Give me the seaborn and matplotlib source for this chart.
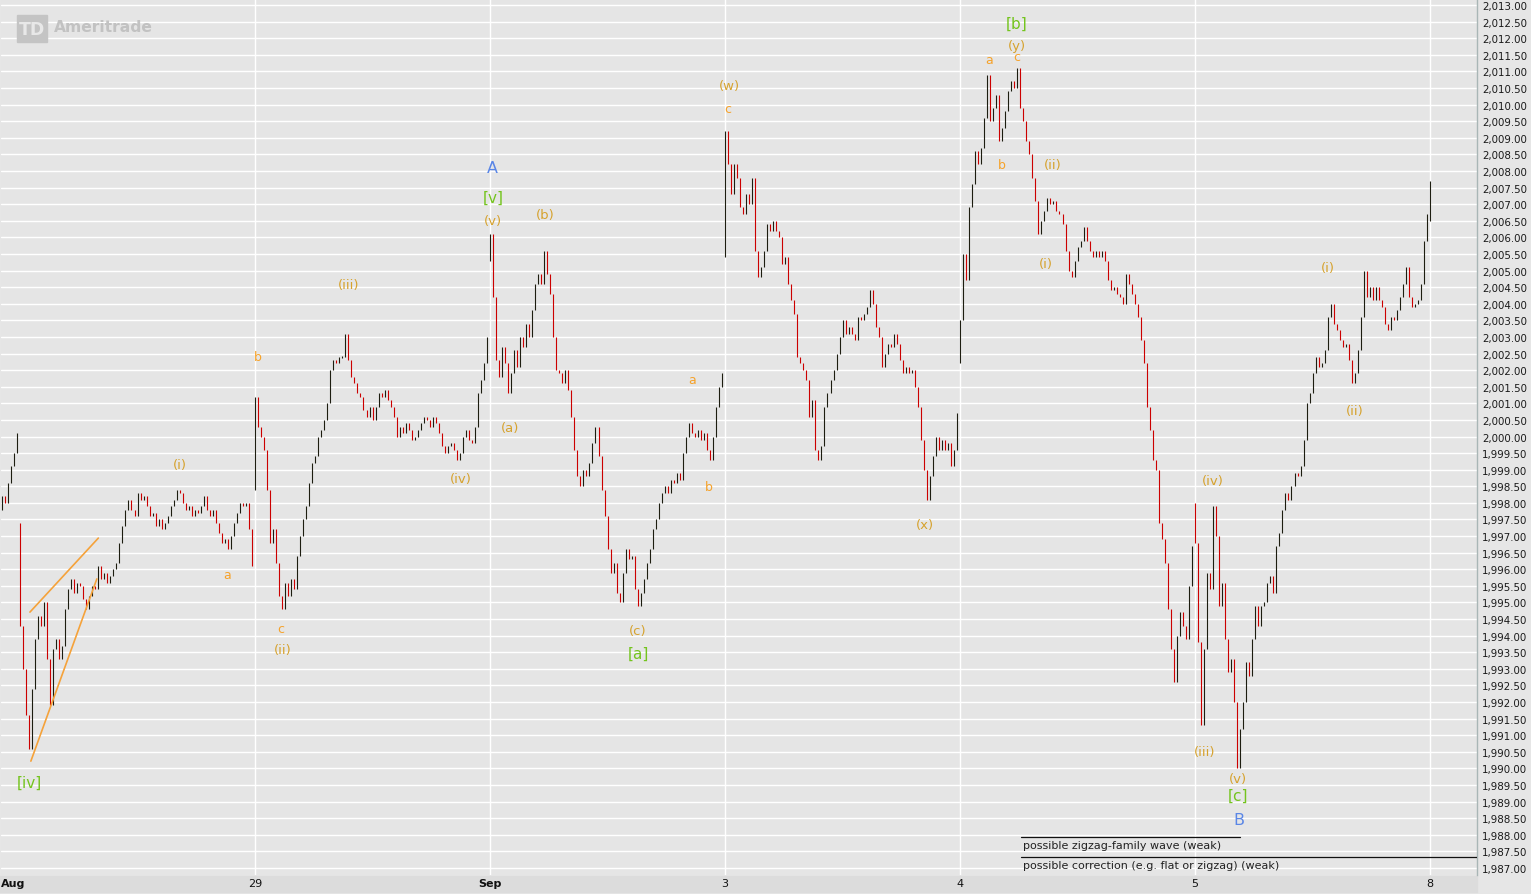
import matplotlib
matplotlib.use("Agg")
import numpy as np
import pandas as pd
import matplotlib.pyplot as plt
import seaborn as sns
from matplotlib.patches import Rectangle

# 5-minute closes per session
aug27_tail = [1998.2, 1998.0, 1998.6, 1999.1, 1999.5, 2000.1]
aug28 = [1994.3, 1993.0, 1991.6, 1990.6, 1992.4, 1993.9, 1994.6, 1994.3, 1995.0, 1993.3,
         1991.9, 1993.6, 1993.9, 1993.3, 1993.7, 1994.8, 1995.4, 1995.7, 1995.3, 1995.6,
         1995.5, 1995.1, 1994.8, 1995.2, 1995.5, 1995.4, 1996.1, 1995.7, 1995.9, 1995.6,
         1995.8, 1996.0, 1996.2, 1996.8, 1997.3, 1997.8, 1998.1, 1997.8, 1997.6, 1998.3,
         1998.1, 1998.2, 1997.9, 1997.6, 1997.7, 1997.3, 1997.5, 1997.2, 1997.4, 1997.6,
         1997.9, 1998.1, 1998.4, 1998.3, 1998.0, 1997.8, 1997.9, 1997.6, 1997.8, 1997.7,
         1997.9, 1998.2, 1997.8, 1997.6, 1997.8, 1997.4, 1997.1, 1996.8, 1996.9, 1996.6,
         1997.0, 1997.4, 1997.7, 1998.0, 1997.9, 1998.0, 1997.2, 1996.1]
aug29 = [2001.2, 2000.3, 2000.0, 1999.6, 1998.4, 1996.8, 1997.2, 1996.2, 1995.2, 1994.8,
         1995.6, 1995.2, 1995.7, 1995.4, 1996.4, 1997.0, 1997.5, 1997.9, 1998.6, 1999.2,
         1999.4, 2000.0, 2000.2, 2000.5, 2001.0, 2002.0, 2002.3, 2002.2, 2002.4, 2002.4,
         2003.1, 2002.3, 2001.8, 2001.6, 2001.3, 2001.2, 2000.8, 2000.6, 2000.9, 2000.5,
         2000.9, 2001.3, 2001.2, 2001.4, 2001.1, 2000.9, 2000.6, 2000.0, 2000.3, 2000.1,
         2000.4, 2000.2, 1999.9, 2000.0, 2000.2, 2000.4, 2000.6, 2000.5, 2000.3, 2000.6,
         2000.4, 2000.1, 1999.7, 1999.5, 1999.7, 1999.8, 1999.6, 1999.3, 1999.5, 2000.0,
         2000.2, 1999.9, 1999.8, 2000.3, 2001.3, 2001.7, 2002.2, 2003.0]
sep2 = [2006.1, 2004.2, 2002.3, 2001.8, 2002.7, 2002.2, 2001.3, 2001.9, 2002.6, 2002.1,
        2003.0, 2002.7, 2003.4, 2003.0, 2003.8, 2004.6, 2004.9, 2004.6, 2005.6, 2004.9,
        2004.3, 2003.0, 2002.0, 2001.9, 2001.6, 2002.0, 2001.4, 2000.6, 1999.6, 1998.8,
        1998.5, 1999.0, 1998.8, 1999.2, 1999.8, 2000.3, 1999.4, 1998.4, 1997.6, 1996.6,
        1995.9, 1996.2, 1995.3, 1995.0, 1995.9, 1996.6, 1996.3, 1996.4, 1995.4, 1994.9,
        1995.3, 1995.7, 1996.2, 1996.6, 1997.2, 1997.5, 1998.0, 1998.3, 1998.5, 1998.3,
        1998.7, 1998.6, 1998.9, 1998.7, 1999.5, 2000.0, 2000.4, 2000.1, 2000.0, 2000.2,
        1999.9, 2000.1, 1999.6, 1999.3, 2000.0, 2000.9, 2001.5, 2001.9]
sep3 = [2009.2, 2008.2, 2007.3, 2008.2, 2007.8, 2006.9, 2006.7, 2007.3, 2007.0, 2007.8,
        2005.6, 2004.8, 2005.1, 2005.6, 2006.4, 2006.2, 2006.5, 2006.2, 2006.0, 2005.2,
        2005.4, 2004.6, 2004.1, 2003.7, 2002.4, 2002.2, 2002.0, 2001.7, 2000.6, 2001.1,
        1999.6, 1999.3, 1999.7, 2000.9, 2001.3, 2001.7, 2002.0, 2002.5, 2003.0, 2003.5,
        2003.1, 2003.3, 2003.1, 2002.9, 2003.6, 2003.5, 2003.7, 2003.9, 2004.4, 2004.0,
        2003.3, 2003.0, 2002.1, 2002.5, 2002.8, 2002.7, 2003.1, 2002.8, 2002.3, 2001.9,
        2002.1, 2001.9, 2002.0, 2001.5, 2000.9, 1999.9, 1999.0, 1998.1, 1998.8, 1999.4,
        2000.0, 1999.6, 1999.9, 1999.6, 1999.8, 1999.1, 1999.6, 2000.7]
sep4 = [2003.5, 2005.5, 2004.7, 2006.9, 2007.6, 2008.6, 2008.2, 2008.7, 2009.6, 2010.9,
        2009.5, 2009.9, 2010.3, 2008.9, 2009.3, 2009.8, 2010.4, 2010.7, 2010.5, 2011.1,
        2009.9, 2009.5, 2008.9, 2008.5, 2007.8, 2007.1, 2006.1, 2006.5, 2006.8, 2007.2,
        2007.0, 2007.1, 2006.8, 2006.7, 2006.4, 2005.6, 2005.0, 2004.8, 2005.3, 2005.7,
        2005.9, 2006.3, 2005.9, 2005.6, 2005.4, 2005.6, 2005.4, 2005.6, 2005.3, 2004.7,
        2004.4, 2004.5, 2004.3, 2004.2, 2004.0, 2004.9, 2004.6, 2004.3, 2004.0, 2003.6,
        2002.9, 2002.2, 2000.9, 2000.2, 1999.3, 1999.0, 1997.4, 1996.9, 1996.2, 1994.8,
        1993.6, 1992.6, 1994.0, 1994.7, 1994.3, 1993.9, 1995.5, 1996.7]
sep5 = [1996.8, 1993.8, 1991.3, 1993.6, 1995.9, 1995.4, 1997.9, 1997.0, 1994.9, 1995.6,
        1993.9, 1992.9, 1993.3, 1992.0, 1990.0, 1991.2, 1992.0, 1993.2, 1992.8, 1993.9,
        1994.9, 1994.3, 1994.9, 1995.0, 1995.6, 1995.8, 1995.3, 1996.7, 1997.1, 1997.8,
        1998.3, 1998.1, 1998.5, 1998.9, 1998.8, 1999.1, 1999.9, 2001.0, 2001.3, 2001.9,
        2002.4, 2002.1, 2002.2, 2002.6, 2003.6, 2004.0, 2003.4, 2003.2, 2002.9, 2002.7,
        2002.8, 2002.3, 2001.6, 2001.9, 2002.6, 2003.6, 2005.0, 2004.2, 2004.5, 2004.1,
        2004.5, 2004.1, 2003.9, 2003.4, 2003.2, 2003.6, 2003.5, 2003.8, 2004.2, 2004.6,
        2005.1, 2004.2, 2003.9, 2004.0, 2004.1, 2004.6, 2005.9, 2006.7]
sep8 = [2007.7]

sessions = [aug27_tail, aug28, aug29, sep2, sep3, sep4, sep5, sep8]
session_opens = [1997.8, 1997.4, 1998.4, 2005.3, 2005.4, 2002.2, 1998.0, 2006.5]
day_labels = ["Aug", "29", "Sep", "3", "4", "5", "8"]
bold_days = ["Aug", "Sep"]
price_ticks = np.arange(1987.0, 2013.01, 0.5)

# ending-diagonal trendlines (bar index, price)
wedge_upper_x = [9.3, 32.0]
wedge_upper_y = [1994.71, 1996.94]
wedge_lower_x = [9.6, 31.5]
wedge_lower_y = [1990.22, 1995.71]

# wave labels: text, bar index, price, degree
wave_labels = [
    ("[iv]", 9.0, 1989.59, "minor"), ("(i)", 59.1, 1999.17, "minute"),
    ("a", 74.7, 1995.83, "minuette"), ("b", 85.0, 2002.42, "minuette"),
    ("c", 92.6, 1994.23, "minuette"), ("(ii)", 93.3, 1993.57, "minute"),
    ("(iii)", 115.2, 2004.59, "minute"), ("(iv)", 152.4, 1998.72, "minute"),
    ("A", 162.7, 2008.09, "intermediate"), ("[v]", 163.0, 2007.22, "minor"),
    ("(v)", 163.0, 2006.52, "minute"), ("(b)", 180.2, 2006.70, "minute"),
    ("(a)", 168.6, 2000.26, "minute"), ("(c)", 211.1, 1994.17, "minute"),
    ("[a]", 211.4, 1993.48, "minor"), ("a", 229.0, 2001.73, "minuette"),
    ("b", 234.7, 1998.48, "minuette"), ("(w)", 241.3, 2010.56, "minute"),
    ("c", 241.0, 2009.87, "minuette"), ("(x)", 306.4, 1997.36, "minute"),
    ("[b]", 336.9, 2012.46, "minor"), ("(y)", 336.9, 2011.79, "minute"),
    ("a", 327.6, 2011.37, "minuette"), ("c", 336.9, 2011.46, "minuette"),
    ("b", 331.9, 2008.18, "minuette"), ("(ii)", 348.8, 2008.18, "minute"),
    ("(i)", 346.5, 2005.20, "minute"), ("(iv)", 402.0, 1998.66, "minute"),
    ("(iii)", 399.3, 1990.52, "minute"), ("(v)", 410.2, 1989.71, "minute"),
    ("[c]", 410.2, 1989.20, "minor"), ("B", 410.6, 1988.47, "intermediate"),
    ("(i)", 440.1, 2005.08, "minute"), ("(ii)", 449.1, 2000.77, "minute"),
]
label_style = {
    "minor": ("#74c41e", 11),
    "minute": ("#d6a22e", 9.5),
    "minuette": ("#f6a22a", 9),
    "intermediate": ("#5a86e6", 11.5),
}

notes = ["possible zigzag-family wave (weak)",
         "possible correction (e.g. flat or zigzag) (weak)"]

# build the bar table
rows = []
i = 0
starts = []
for op, closes in zip(session_opens, sessions):
    starts.append(i)
    prev = op
    for c in closes:
        rows.append((i, prev, c))
        prev = c
        i += 1
bars = pd.DataFrame(rows, columns=["idx", "open", "close"])
bars["lo"] = bars[["open", "close"]].min(axis=1)
bars["hi"] = bars[["open", "close"]].max(axis=1)
mid = (bars["lo"] + bars["hi"]) / 2
small = (bars["hi"] - bars["lo"]) < 0.08
bars.loc[small, "lo"] = mid[small] - 0.04
bars.loc[small, "hi"] = mid[small] + 0.04
bars["up"] = bars["close"] >= bars["open"]

sns.set_style("darkgrid", {"axes.facecolor": "#e5e5e5", "figure.facecolor": "#e6e6e6",
                           "grid.color": "white"})
plt.rcParams["font.family"] = ["DejaVu Sans"]

W, H = 1531, 895
fig = plt.figure(figsize=(W / 100, H / 100), dpi=100)
ax = fig.add_axes([1 / W, 19 / H, 1476 / W, 876 / H])

x0, x1 = -0.31, 489.57
ax.set_xlim(x0, x1)
ax.set_ylim(1986.79, 2013.18)

# grid: price every 0.5, vertical line at each session start
ax.set_yticks(price_ticks)
ax.set_yticklabels([f"{v:,.2f}" for v in price_ticks])
ax.set_xticks(starts[2:])
ax.set_xticklabels([])
ax.grid(True, color="white", lw=1.0)
ax.yaxis.tick_right()
ax.tick_params(axis="y", length=0, pad=3.5, labelsize=7.4, labelcolor="#1a1a1a")
ax.tick_params(axis="x", length=0)
for s in ["left", "top", "bottom"]:
    ax.spines[s].set_visible(False)
ax.spines["right"].set_visible(True)
ax.spines["right"].set_color("#a9b6b6")
ax.spines["right"].set_linewidth(1.0)

# price bars
up = bars[bars["up"]]
dn = bars[~bars["up"]]
ax.vlines(up["idx"], up["lo"], up["hi"], colors="#1d1d10", lw=0.8, zorder=3)
ax.vlines(dn["idx"], dn["lo"], dn["hi"], colors="#cc0000", lw=0.8, zorder=3)

# diagonal trendlines
sns.lineplot(x=wedge_upper_x, y=wedge_upper_y, ax=ax, color="#f5a23a", lw=1.2, zorder=4)
sns.lineplot(x=wedge_lower_x, y=wedge_lower_y, ax=ax, color="#f5a23a", lw=1.2, zorder=4)

for txt, xi, yp, deg in wave_labels:
    col, fs = label_style[deg]
    ax.text(xi, yp, txt, color=col, fontsize=fs, ha="center", va="center", zorder=5)

# notes at the bottom
ax.plot([338.2, 410.9], [1987.93, 1987.93], color="#111111", lw=0.9, zorder=5)
ax.text(338.8, 1987.69, notes[0], fontsize=8.0, color="#222222", ha="left", va="center")
ax.plot([338.2, x1], [1987.33, 1987.33], color="#111111", lw=0.9, zorder=5)
ax.text(338.9, 1987.09, notes[1], fontsize=8.0, color="#222222", ha="left", va="center")

# date labels below the plot
xt = ax.get_xaxis_transform()
for lab, st in zip(day_labels, starts[1:]):
    bold = "bold" if lab in bold_days else "normal"
    if lab == "Aug":
        ax.text(x0 + 0.1, -8 / 876, lab, transform=xt, fontsize=8, fontweight=bold,
                ha="left", va="center", color="#111111", clip_on=False)
    else:
        ax.text(st, -8 / 876, lab, transform=xt, fontsize=8, fontweight=bold,
                ha="center", va="center", color="#111111", clip_on=False)

# bottom strip
fig.add_artist(Rectangle((0, 2 / H), 1477 / W, 16 / H, transform=fig.transFigure,
                         color="#dcdcdc", zorder=-1))

# watermark logo
fig.add_artist(Rectangle((17 / W, 1 - 43 / H), 30 / W, 27 / H, transform=fig.transFigure,
                         color="#c4c4c4", zorder=6))
fig.text(32 / W, 1 - 30 / H, "TD", color="#e8e8e8", fontsize=12.5, fontweight="bold",
         ha="center", va="center", zorder=7)
fig.text(54 / W, 1 - 28 / H, "Ameritrade", color="#c2c2c2", fontsize=11.2,
         fontweight="bold", ha="left", va="center", zorder=7)

fig.savefig("out.png", dpi=100, facecolor=fig.get_facecolor())
